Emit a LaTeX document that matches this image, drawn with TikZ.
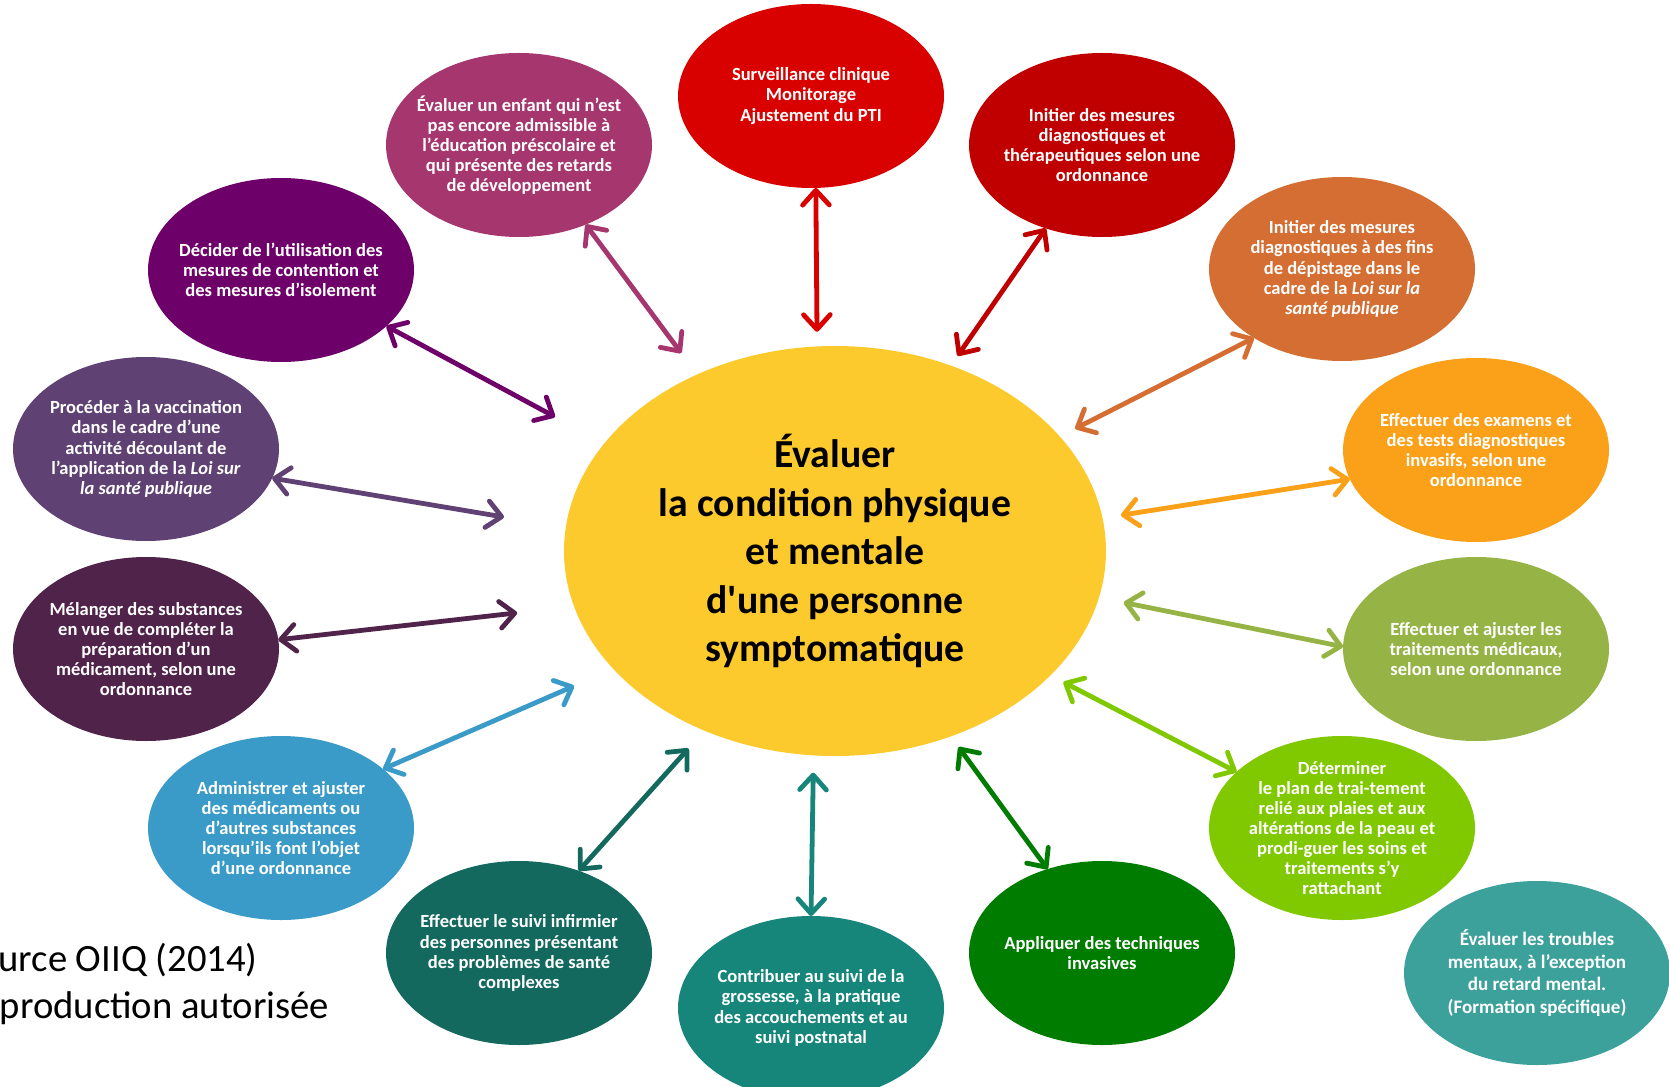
\documentclass[tikz,border=0pt]{standalone}
\usepackage{fontspec}
\setmainfont{Carlito}
\usetikzlibrary{arrows.meta,shapes.geometric}
\definecolor{jaune}{RGB}{253,202,46}
\definecolor{rouge}{RGB}{217,0,0}
\definecolor{bordeaux}{RGB}{192,0,0}
\definecolor{brique}{RGB}{212,110,50}
\definecolor{orangevif}{RGB}{250,160,25}
\definecolor{olive}{RGB}{150,180,70}
\definecolor{vertclair}{RGB}{128,200,0}
\definecolor{vertfonce}{RGB}{0,125,0}
\definecolor{sarcelle}{RGB}{23,134,122}
\definecolor{sarcellefonce}{RGB}{20,105,95}
\definecolor{bleu}{RGB}{58,155,200}
\definecolor{aubergine}{RGB}{80,35,75}
\definecolor{mauve}{RGB}{95,65,115}
\definecolor{violet}{RGB}{110,0,105}
\definecolor{prune}{RGB}{165,55,110}
\definecolor{turquoise}{RGB}{60,160,155}
\begin{document}
\begin{tikzpicture}[x=0.75pt, y=-0.75pt,
  bulle/.style={ellipse, fill=#1, minimum width=199.5pt, minimum height=138pt,
    inner sep=-12pt, outer sep=0pt, text=white, align=center,
    font=\bfseries\fontsize{13.9}{15.1}\selectfont},
  lien/.style={<->, draw=#1, line width=3.6pt},
  >={Straight Barb[length=11pt, width=20pt, round]}]
\useasboundingbox (0,0) rectangle (1669,1087);
\clip (0,0) rectangle (1669,1087);

% centre
\node[ellipse, fill=jaune, minimum width=406.5pt, minimum height=307.5pt, inner sep=0pt, outer sep=0pt,
  align=center, font=\bfseries\fontsize{29.8}{36.4}\selectfont] (Evaluer) at (835,551)
  {Évaluer\\la condition physique\\et mentale\\d\textquotesingle une personne\\symptomatique};

% couronne
\node[bulle=rouge] (Surveillance) at (811,96) {Surveillance clinique\\Monitorage\\Ajustement du PTI};
\node[bulle=prune] (Enfant) at (519,145) {Évaluer un enfant qui n’est\\pas encore admissible à\\l’éducation préscolaire et\\qui présente des retards\\de développement};
\node[bulle=bordeaux] (Initier 1) at (1102,145) {Initier des mesures\\diagnostiques et\\thérapeutiques selon une\\ordonnance};
\node[bulle=brique] (Initier 2) at (1342,269) {Initier des mesures\\diagnostiques à des fins\\de dépistage dans le\\cadre de la \textit{Loi sur la}\\\textit{santé publique}};
\node[bulle=violet] (Decider) at (281,270) {Décider de l’utilisation des\\mesures de contention et\\des mesures d’isolement};
\node[bulle=mauve] (Vaccination) at (146,449) {Procéder à la vaccination\\dans le cadre d’une\\activité découlant de\\l’application de la \textit{Loi sur}\\\textit{la santé publique}};
\node[bulle=orangevif] (Effectuer 1) at (1476,450) {Effectuer des examens et\\des tests diagnostiques\\invasifs, selon une\\ordonnance};
\node[bulle=aubergine] (Melanger) at (146,649) {Mélanger des substances\\en vue de compléter la\\préparation d’un\\médicament, selon une\\ordonnance};
\node[bulle=olive] (Effectuer 2) at (1476,649) {Effectuer et ajuster les\\traitements médicaux,\\selon une ordonnance};
\node[bulle=bleu] (Administrer) at (281,828) {Administrer et ajuster\\des médicaments ou\\d’autres substances\\lorsqu’ils font l’objet\\d’une ordonnance};
\node[bulle=vertclair] (Determiner) at (1342,828) {Déterminer\\le plan de trai-tement\\relié aux plaies et aux\\altérations de la peau et\\prodi-guer les soins et\\traitements s’y\\rattachant};
\node[bulle=sarcellefonce] (Effectuer 3) at (519,953) {Effectuer le suivi infirmier\\des personnes présentant\\des problèmes de santé\\complexes};
\node[bulle=sarcelle] (Contribuer) at (811,1008) {Contribuer au suivi de la\\grossesse, à la pratique\\des accouchements et au\\suivi postnatal};
\node[bulle=vertfonce] (Appliquer) at (1102,953) {Appliquer des techniques\\invasives};
\node[bulle=turquoise, font=\bfseries\fontsize{14.3}{17}\selectfont] (Troubles) at (1537,973) {Évaluer les troubles\\mentaux, à l’exception\\du retard mental.\\(Formation spécifique)};

\node[anchor=north west, inner sep=0pt, align=left, font=\fontsize{29}{35}\selectfont] (Source) at (-40,943) {Source OIIQ (2014)\\Reproduction autorisée};

\draw[lien=rouge, shorten >=11pt] (Surveillance.-87) -- (Evaluer.95);
\draw[lien=prune, shorten >=20pt] (Enfant.-50) -- (Evaluer.128);
\draw[lien=bordeaux, shorten >=9pt] (Initier 1.-124) -- (Evaluer.58);
\draw[lien=brique, shorten >=13pt] (Initier 2.-142) -- (Evaluer.27);
\draw[lien=violet, shorten >=42pt] (Decider.-28) -- (Evaluer.155);
\draw[lien=mauve, shorten >=47pt] (Vaccination.-13) -- (Evaluer.175);
\draw[lien=orangevif, shorten >=14pt] (Effectuer 1.193) -- (Evaluer.7);
\draw[lien=aubergine, shorten >=43pt] (Melanger.4) -- (Evaluer.192);
\draw[lien=olive, shorten >=19pt] (Effectuer 2.179) -- (Evaluer.-10);
\draw[lien=bleu, shorten >=32pt] (Administrer.30) -- (Evaluer.208);
\draw[lien=vertclair, shorten >=11pt] (Determiner.152) -- (Evaluer.-30);
\draw[lien=sarcellefonce, shorten >=18pt] (Effectuer 3.54) -- (Evaluer.234);
\draw[lien=sarcelle, shorten >=13pt] (Contribuer.90) -- (Evaluer.-96);
\draw[lien=vertfonce, shorten >=10pt] (Appliquer.123) -- (Evaluer.-58);

\end{tikzpicture}
\end{document}
